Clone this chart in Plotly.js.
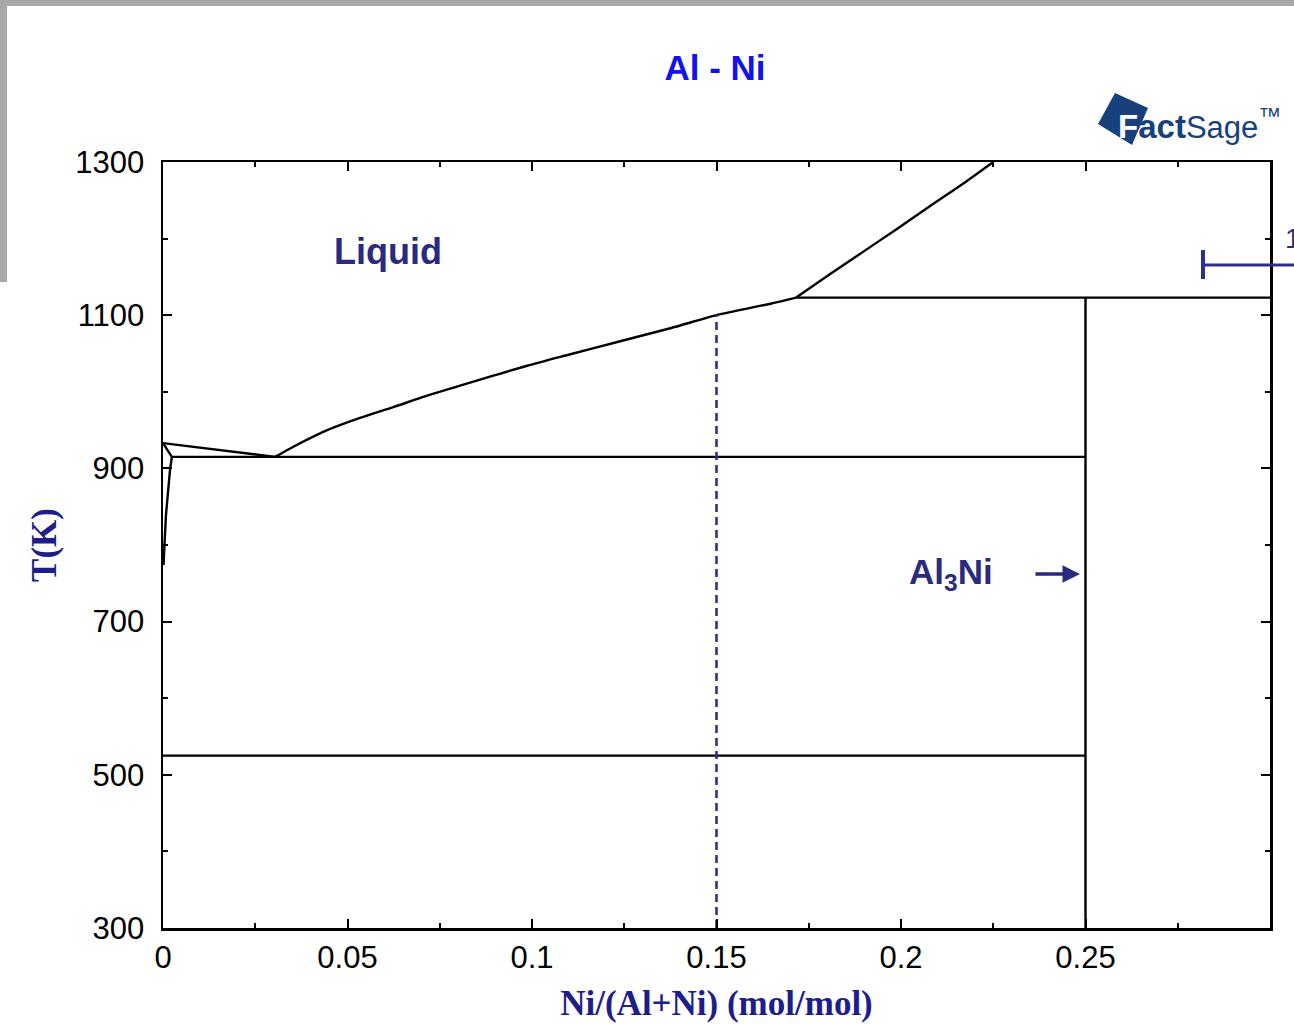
<!DOCTYPE html>
<html>
<head>
<meta charset="utf-8">
<script src="https://cdn.plot.ly/plotly-3.0.1.min.js"></script>
<style>
html,body{margin:0;padding:0;background:#ffffff;}
#chart{width:1294px;height:1025px;}
</style>
</head>
<body>
<div id="chart"></div>
<script>
// ---- data (x = Ni/(Al+Ni) mol/mol, T in K) ----
// liquidus, Al-rich branch (Al melting point -> eutectic)
const liqAlX = [0, 0.0304];
const liqAlT = [933, 915];
// liquidus, Al3Ni primary branch (eutectic -> peritectic)
const liqMidX = [0.0304, 0.0352, 0.0445, 0.0534, 0.0624, 0.0716, 0.0805, 0.0895, 0.0987, 0.1104, 0.1239, 0.1375, 0.1508, 0.1646, 0.1716];
const liqMidT = [915, 928, 950, 966, 980, 995, 1008, 1021, 1034, 1049, 1066, 1083, 1101, 1115, 1123];
// liquidus above the peritectic
const liqHighX = [0.1716, 0.1809, 0.1898, 0.1990, 0.2080, 0.2169, 0.2250];
const liqHighT = [1123, 1154, 1183, 1213, 1243, 1272, 1300];

const alSolidusX = [0, 0.0024, 0.0019, 0.00136, 0.0008, 0.0004, 0.00014];
const alSolidusT = [933, 915, 898, 872, 839, 800, 774];

const eutecticX = [0.0024, 0.25];
const eutecticT = [915, 915];

const peritecticX = [0.1716, 0.3];
const peritecticT = [1123, 1123];

const al3niX = [0.25, 0.25];
const al3niT = [300, 1123];

const lowLineX = [0, 0.25];
const lowLineT = [525, 525];

const sectionX = [0.15, 0.15];
const sectionT = [300, 1101];

const xTickVals = [0, 0.05, 0.1, 0.15, 0.2, 0.25];
const xTickText = ["0", "0.05", "0.1", "0.15", "0.2", "0.25"];
const xMinorVals = [0.025, 0.075, 0.125, 0.175, 0.225, 0.275];
const yTickVals = [300, 500, 700, 900, 1100, 1300];
const yTickText = ["300", "500", "700", "900", "1100", "1300"];
const yMinorVals = [400, 600, 800, 1000, 1200];

const navy = '#2a2a80';
const lineStyle = {color: '#000000', width: 2.4};

function seg(x, y, extra) {
  return Object.assign({x: x, y: y, type: 'scatter', mode: 'lines', line: lineStyle, hoverinfo: 'skip', showlegend: false}, extra || {});
}

const traces = [
  seg(liqAlX, liqAlT),
  seg(liqMidX, liqMidT, {line: {color: '#000000', width: 2.4, shape: 'spline', smoothing: 0.8}}),
  seg(liqHighX, liqHighT, {line: {color: '#000000', width: 2.4, shape: 'spline', smoothing: 0.8}}),
  seg(alSolidusX, alSolidusT),
  seg(eutecticX, eutecticT),
  seg(peritecticX, peritecticT),
  seg(al3niX, al3niT),
  seg(lowLineX, lowLineT),
  seg(sectionX, sectionT, {line: {color: '#2e2e8c', width: 2.6, dash: '8px,5px'}})
];

// helpers to convert pixel positions of decorations into paper coords
const L = 163, R = 24, T = 162, B = 97, W = 1294, H = 1025;
const pw = W - L - R, ph = H - T - B;
const px = v => (v - L) / pw;
const py = v => (H - B - v) / ph;

const tickFont = {family: 'Liberation Sans, Arial, sans-serif', size: 31, color: '#000000'};

const layout = {
  width: W, height: H,
  margin: {l: L, r: R, t: T, b: B, pad: 0},
  paper_bgcolor: '#ffffff',
  plot_bgcolor: '#ffffff',
  showlegend: false,
  title: {
    text: '<b>Al - Ni</b>',
    font: {family: 'Liberation Sans, Arial, sans-serif', size: 35, color: '#1212ee'},
    xref: 'container', yref: 'container',
    x: 715 / W, y: 1 - 68 / H, xanchor: 'center', yanchor: 'middle'
  },
  xaxis: {
    range: [0, 0.3],
    showgrid: false, zeroline: false,
    showline: true, linecolor: '#000000', linewidth: 2.5, mirror: 'ticks',
    ticks: 'inside', ticklen: 9, tickwidth: 2, tickcolor: '#000000',
    tickmode: 'array', tickvals: xTickVals, ticktext: xTickText,
    minor: {tickmode: 'array', tickvals: xMinorVals, ticks: 'inside', ticklen: 5, tickwidth: 2, tickcolor: '#000000', showgrid: false},
    tickfont: tickFont,
    ticklabelstandoff: 0,
    title: {text: '<b>Ni/(Al+Ni) (mol/mol)</b>', font: {family: 'Liberation Serif, Times New Roman, serif', size: 35, color: '#1e1e8a'}, standoff: 17}
  },
  yaxis: {
    range: [300, 1300],
    showgrid: false, zeroline: false,
    showline: true, linecolor: '#000000', linewidth: 2.5, mirror: 'ticks',
    ticks: 'inside', ticklen: 9, tickwidth: 2, tickcolor: '#000000',
    tickmode: 'array', tickvals: yTickVals, ticktext: yTickText,
    minor: {tickmode: 'array', tickvals: yMinorVals, ticks: 'inside', ticklen: 5, tickwidth: 2, tickcolor: '#000000', showgrid: false},
    tickfont: tickFont,
    ticklabelstandoff: 10,
    title: {text: '<b>T(K)</b>', font: {family: 'Liberation Serif, Times New Roman, serif', size: 35, color: '#1e1e8a'}, standoff: 8}
  },
  shapes: [
    // grey scan border (top and left strip)
    {type: 'rect', xref: 'paper', yref: 'paper', x0: px(0), x1: px(W), y0: py(0), y1: py(6), fillcolor: '#a8a8a8', line: {width: 0}, layer: 'below'},
    {type: 'rect', xref: 'paper', yref: 'paper', x0: px(0), x1: px(7), y0: py(0), y1: py(282), fillcolor: '#a8a8a8', line: {width: 0}, layer: 'below'},
    // FactSage logo square
    {type: 'path', xref: 'paper', yref: 'paper',
     path: 'M ' + px(1098) + ' ' + py(124) + ' L ' + px(1115) + ' ' + py(93) + ' L ' + px(1148) + ' ' + py(108) + ' L ' + px(1132) + ' ' + py(145) + ' Z',
     fillcolor: '#17407c', line: {width: 0}},
    // partial marker at the right edge
    {type: 'line', xref: 'paper', yref: 'paper', x0: px(1203), x1: px(1296), y0: py(265), y1: py(265), line: {color: '#2e2e8c', width: 3}},
    {type: 'line', xref: 'paper', yref: 'paper', x0: px(1203), x1: px(1203), y0: py(250), y1: py(279), line: {color: '#2e2e8c', width: 4}}
  ],
  annotations: [
    {x: 0.061, y: 1183, xref: 'x', yref: 'y', text: '<b>Liquid</b>', showarrow: false,
     font: {family: 'Liberation Sans, Arial, sans-serif', size: 36, color: navy}},
    {x: 0.2135, y: 762, xref: 'x', yref: 'y', text: '<b>Al<sub>3</sub>Ni</b>', showarrow: false,
     font: {family: 'Liberation Sans, Arial, sans-serif', size: 35, color: navy}},
    {x: 0.2485, y: 762, xref: 'x', yref: 'y', text: '', showarrow: true, ax: -46, ay: 0,
     arrowhead: 2, arrowsize: 1, arrowwidth: 3.5, arrowcolor: navy, standoff: 0},
    {x: px(1283), y: py(238), xref: 'paper', yref: 'paper', xanchor: 'left', yanchor: 'middle', text: '1', showarrow: false,
     font: {family: 'Liberation Sans, Arial, sans-serif', size: 28, color: navy}},
    // FactSage wordmark
    {x: px(1116), y: py(124), xref: 'paper', yref: 'paper', xanchor: 'left', yanchor: 'middle', showarrow: false,
     text: '<b><span style="fill:#ffffff">F</span>act</b><span style="font-size:31px">Sage</span><sup>™</sup>',
     font: {family: 'Liberation Sans, Arial, sans-serif', size: 33, color: '#17407c'}}
  ]
};

Plotly.newPlot('chart', traces, layout, {displayModeBar: false, staticPlot: true});
</script>
</body>
</html>
